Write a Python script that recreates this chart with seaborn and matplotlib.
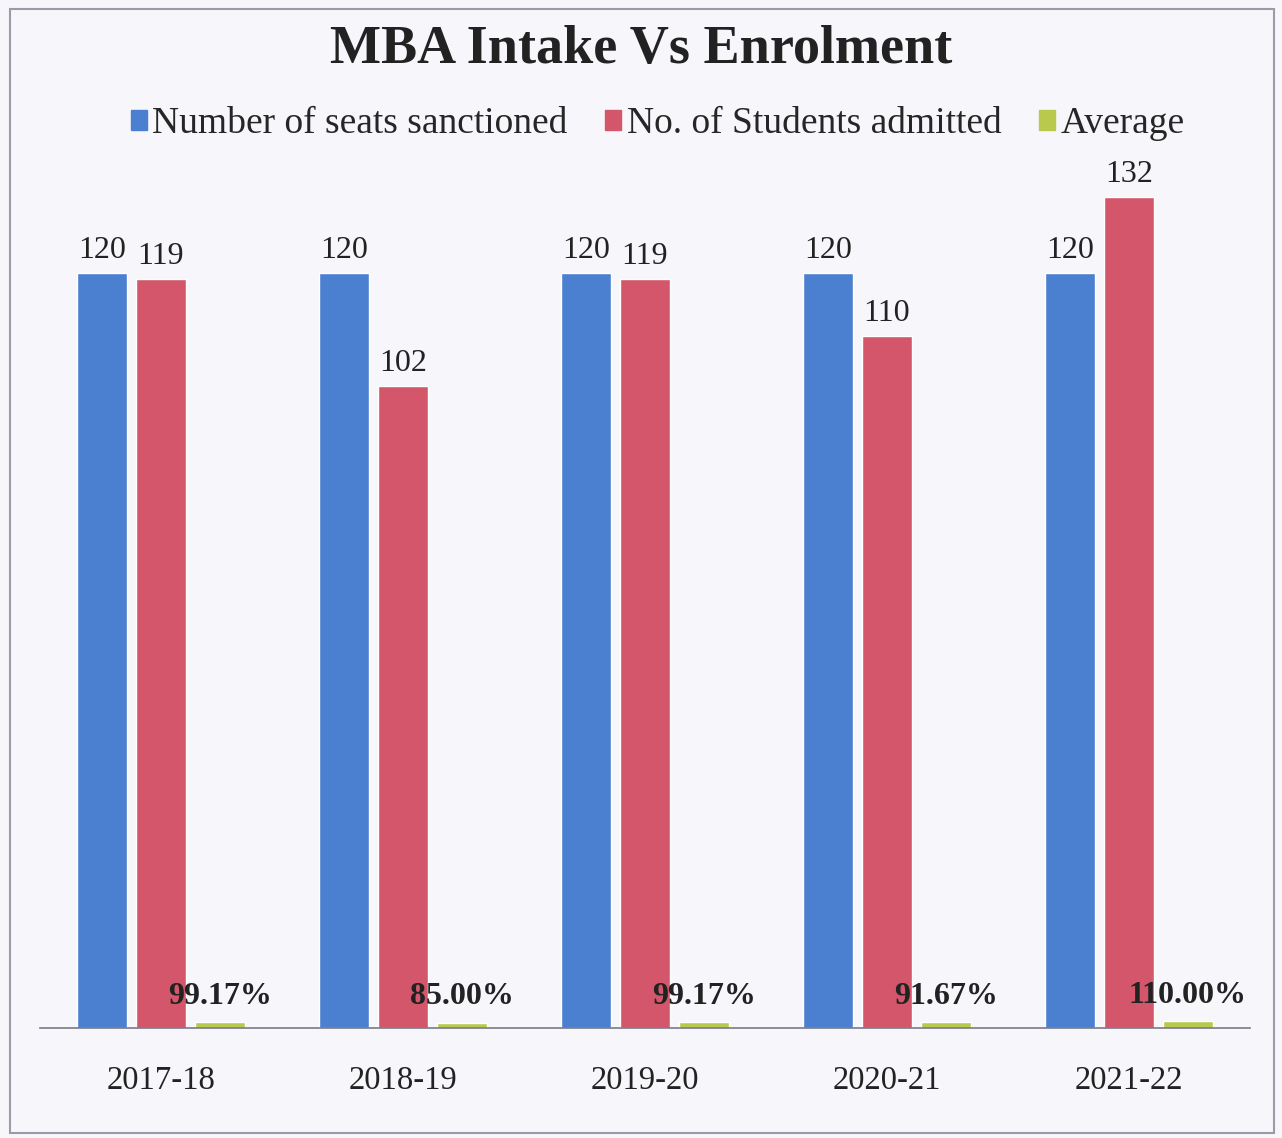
import matplotlib
matplotlib.use("Agg")
import matplotlib.pyplot as plt
import pandas as pd
import seaborn as sns
from matplotlib.patches import Rectangle

years = ["2017-18", "2018-19", "2019-20", "2020-21", "2021-22"]
seats = [120, 120, 120, 120, 120]
admitted = [119, 102, 119, 110, 132]
average = [0.9917, 0.85, 0.9917, 0.9167, 1.10]
series = ["Number of seats sanctioned", "No. of Students admitted", "Average"]
colors = ["#4b80d0", "#d4566a", "#b9c94e"]

df = pd.DataFrame({
    "Year": years * 3,
    "Series": [series[0]] * 5 + [series[1]] * 5 + [series[2]] * 5,
    "Value": seats + admitted + average,
})

sns.set_theme(style="white")
plt.rcParams["font.family"] = ["Liberation Serif", "DejaVu Serif"]

fig = plt.figure(figsize=(12.82, 11.38), dpi=100)
fig.patch.set_facecolor("#f7f7fb")
ax = fig.add_axes([0.031, 0.0967, 0.944, 0.774])
ax.set_facecolor("#f7f7fb")

sns.barplot(data=df, x="Year", y="Value", hue="Series", hue_order=series,
            palette=colors, saturation=1, width=0.73, gap=0.15, ax=ax, legend=False)

ax.set_ylim(0, 140)
ax.set_xlim(-0.5, 4.5)
ax.set_yticks([])
ax.set_xlabel("")
ax.set_ylabel("")
for s in ["top", "left", "right"]:
    ax.spines[s].set_visible(False)
ax.spines["bottom"].set_color("#7a7a8a")
ax.spines["bottom"].set_linewidth(1.2)
ax.tick_params(axis="x", length=0, pad=27, labelsize=23.5, colors="#222222")

# data labels
ax.bar_label(ax.containers[0], labels=[str(v) for v in seats], padding=6,
             fontsize=23, color="#222222")
ax.bar_label(ax.containers[1], labels=[str(v) for v in admitted], padding=6,
             fontsize=23, color="#222222")
ax.bar_label(ax.containers[2], labels=[f"{v * 100:.2f}%" for v in average],
             padding=8, fontsize=23, fontweight="bold", color="#222222")

# legend
handles = [Rectangle((0, 0), 1, 1, color=c) for c in colors]
fig.legend(handles, series, loc="center", bbox_to_anchor=(0.513, 0.891), ncol=3,
           frameon=False, fontsize=27, handlelength=0.42, handleheight=0.42,
           handletextpad=0.15, columnspacing=1.0)

fig.suptitle("MBA Intake Vs Enrolment", y=0.978, fontsize=39, fontweight="bold",
             color="#222222")

# outer frame
fig.patches.append(Rectangle((0.008, 0.004), 0.986, 0.988, transform=fig.transFigure,
                             fill=False, edgecolor="#9a9aa8", linewidth=1.5))

fig.savefig("out.png", dpi=100, facecolor=fig.get_facecolor())
